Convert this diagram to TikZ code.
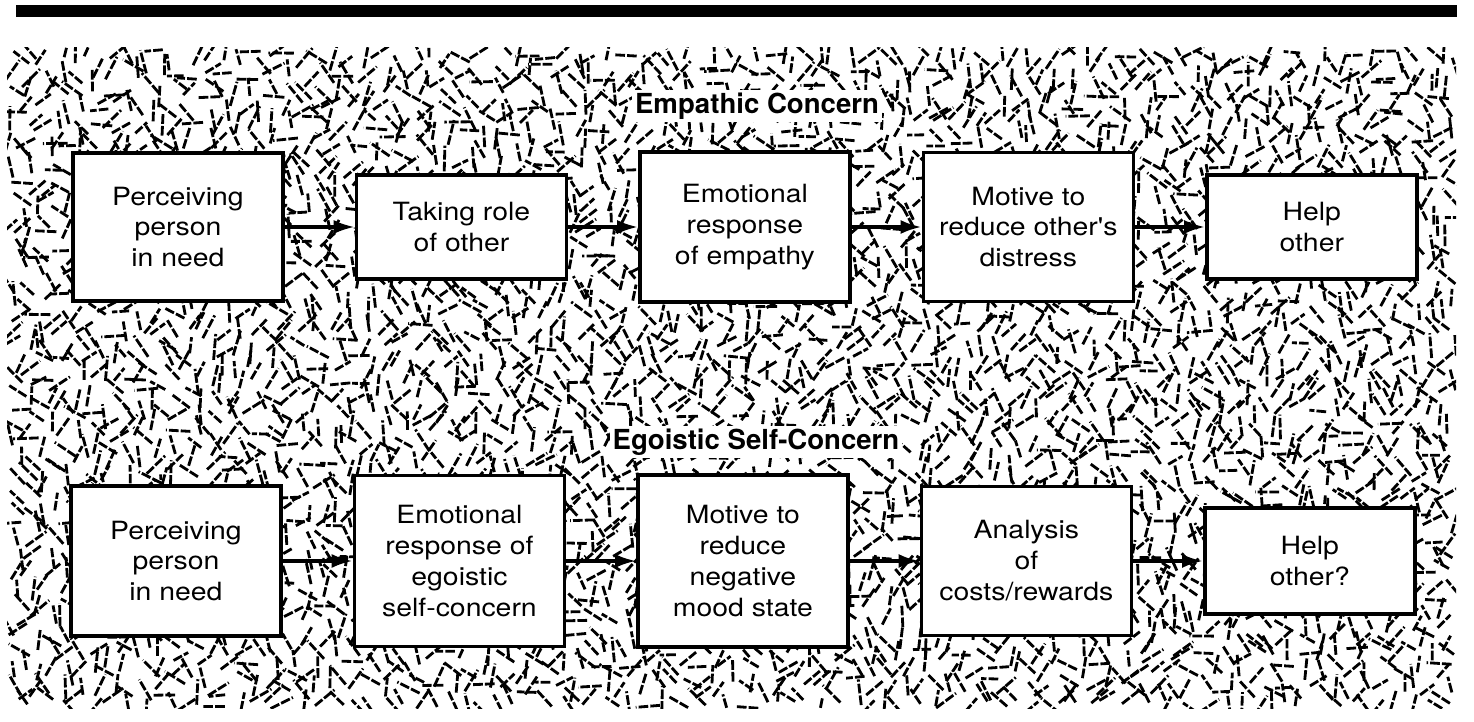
\documentclass[tikz,border=0pt]{standalone}
\usepackage{fontspec}
\setmainfont{TeX Gyre Heros}
\newfontfamily\boxfont[FakeStretch=1.13]{TeX Gyre Heros}
\usetikzlibrary{positioning,arrows.meta}

\pgfmathdeclarerandomlist{grainang}{{90}{60}{120}{32}{148}{0}{78}{102}{45}{135}}

\begin{document}
\begin{tikzpicture}[x=0.02cm,y=-0.02cm,
  stage/.style={draw,line width=2pt,fill=white,minimum width=4.2cm,align=center,
    inner sep=2pt,font={\boxfont\fontsize{14.3pt}{17.6pt}\selectfont}},
  heading/.style={fill=white,inner sep=1.5pt,font={\fontsize{15.7pt}{18pt}\selectfont}},
  grain/.style={line width=1.6pt,dash pattern=on 5.5pt off 1.2pt},
  flow/.style={line width=2pt,-{Latex[length=12pt,width=8pt]}},
  node distance=1.4cm]

\useasboundingbox (0,0) rectangle (1474,722);
\fill[white] (0,0) rectangle (1474,722);
\fill[black] (16,5) rectangle (1457,17);

\begin{scope}
\clip (7,48) rectangle (1456,708);
\pgfmathsetseed{4217}
\foreach \gi in {0,...,89}{
  \foreach \gj in {0,...,40}{
    \pgfmathsetmacro\gx{7+16.1*(\gi+rnd)}
    \pgfmathsetmacro\gy{48+16.1*(\gj+rnd)}
    \pgfmathrandomitem\gb{grainang}
    \pgfmathsetmacro\ga{\gb+12*rnd-6}
    \pgfmathsetmacro\gl{8+5*rnd}
    \pgfmathsetmacro\gr{\ga+180}
    \pgfmathsetmacro\gL{2*\gl}
    \draw[grain] (\gx,\gy) ++(\ga:\gl) -- ++(\gr:\gL);
  }
}
\end{scope}

\node[heading] (empathic) at (757,106) {\bf Empathic Concern};
\node[heading] (egoistic) at (756,442) {\bf Egoistic Self-Concern};

\node[stage,minimum height=2.96cm] (b1) at (178,227) {Perceiving\\person\\in need};
\node[stage,minimum height=2.08cm,right=of b1] (b2) {Taking role\\of other};
\node[stage,minimum height=3cm,right=of b2] (b3) {Emotional\\response\\of empathy};
\node[stage,minimum height=2.98cm,right=of b3] (b4) {Motive to\\reduce other's\\distress};
\node[stage,minimum height=2.08cm,right=of b4] (b5) {Help\\other};

\node[stage,minimum height=3cm] (c1) at (176,561) {Perceiving\\person\\in need};
\node[stage,minimum height=3.42cm,right=of c1] (c2) {Emotional\\response of\\egoistic\\self-concern};
\node[stage,minimum height=3.44cm,right=of c2] (c3) {Motive to\\reduce\\negative\\mood state};
\node[stage,minimum height=2.98cm,right=of c3] (c4) {Analysis\\of\\costs/rewards};
\node[stage,minimum height=2.12cm,right=of c4] (c5) {Help\\other?};

\foreach \a/\b in {b1/b2,b2/b3,b3/b4,b4/b5,c1/c2,c2/c3,c3/c4,c4/c5}
  \draw[flow] (\a) -- (\b);

\end{tikzpicture}
\end{document}
